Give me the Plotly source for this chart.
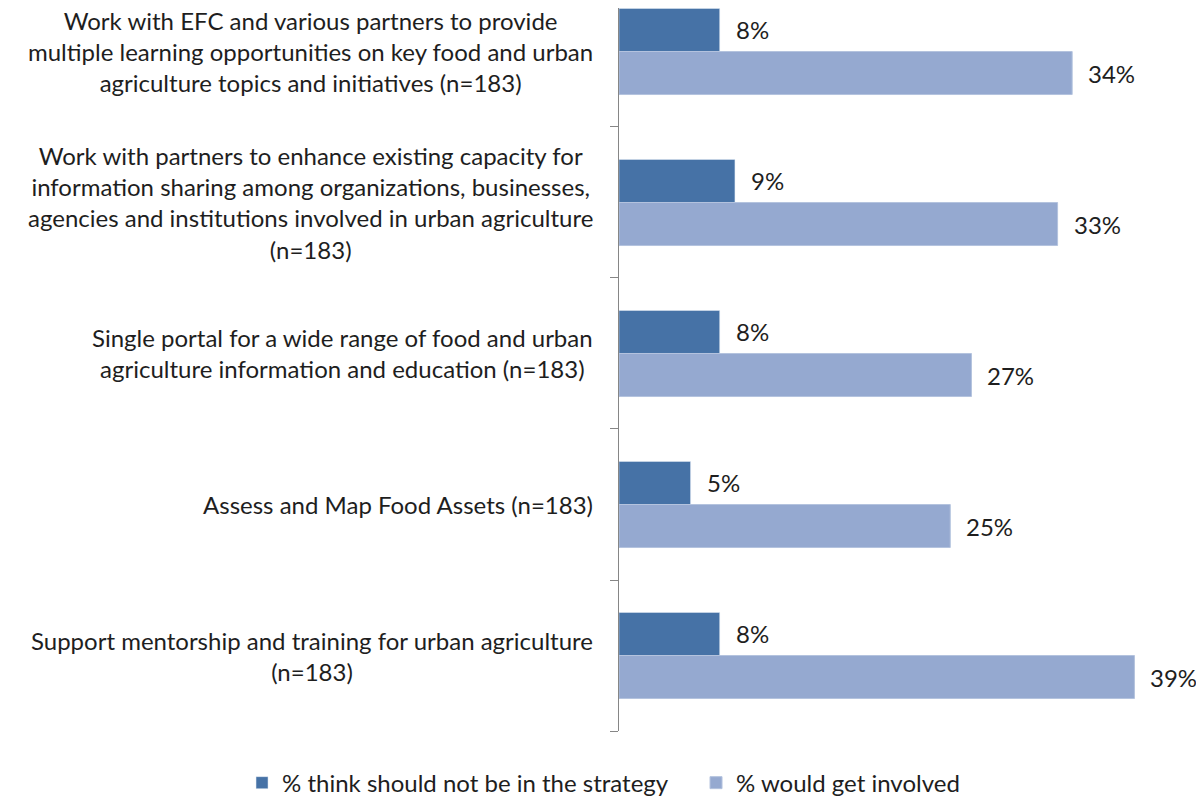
import plotly.graph_objects as go

# Categories listed top to bottom as in the chart
categories = [
    "Work with EFC and various partners to provide<br>multiple learning opportunities on key food and urban<br>agriculture topics and initiatives (n=183)",
    "Work with partners to enhance existing capacity for<br>information sharing among organizations, businesses,<br>agencies and institutions involved in urban agriculture<br>(n=183)",
    "Single portal for a wide range of food and urban<br>agriculture information and education (n=183)",
    "Assess and Map Food Assets (n=183)",
    "Support mentorship and training for urban agriculture<br>(n=183)",
]
series_names = ["% think should not be in the strategy", "% would get involved"]
not_in_strategy = [7.6, 8.75, 7.6, 5.4, 7.6]
would_get_involved = [34.2, 33.1, 26.6, 25.0, 38.9]
not_in_strategy_labels = ["8%", "9%", "8%", "5%", "8%"]
would_get_involved_labels = ["34%", "33%", "27%", "25%", "39%"]

dark = "#4672A6"
light = "#95A9D0"
text_color = "#1e1e1e"
font_family = "Lato, Carlito, 'Liberation Sans', sans-serif"
fs = 24

n = len(categories)
ypos = [n - 1 - i for i in range(n)]
bw = 0.285

fig = go.Figure()
fig.add_trace(go.Bar(
    x=not_in_strategy, y=ypos, orientation="h", name=series_names[0],
    marker=dict(color=dark), width=bw, offset=0, hoverinfo="x",
))
fig.add_trace(go.Bar(
    x=would_get_involved, y=ypos, orientation="h", name=series_names[1],
    marker=dict(color=light, line=dict(color="#B4C3DE", width=1)), width=bw, offset=-bw, hoverinfo="x",
))

annotations = []
for i in range(n):
    annotations.append(dict(
        x=0, y=ypos[i], xref="x", yref="y", text=categories[i], showarrow=False,
        xanchor="right", yanchor="middle", align="center", xshift=-24,
        font=dict(family=font_family, size=fs, color=text_color),
    ))
    annotations.append(dict(
        x=not_in_strategy[i], y=ypos[i] + bw / 2, xref="x", yref="y",
        text=not_in_strategy_labels[i], showarrow=False, xanchor="left",
        yanchor="middle", xshift=14,
        font=dict(family=font_family, size=fs, color=text_color),
    ))
    annotations.append(dict(
        x=would_get_involved[i], y=ypos[i] - bw / 2, xref="x", yref="y",
        text=would_get_involved_labels[i], showarrow=False, xanchor="left",
        yanchor="middle", xshift=14,
        font=dict(family=font_family, size=fs, color=text_color),
    ))

fig.update_layout(
    width=1204, height=799,
    margin=dict(l=611, r=8, t=0, b=76, pad=0, autoexpand=False),
    paper_bgcolor="white", plot_bgcolor="white",
    barmode="overlay",
    showlegend=True,
    legend=dict(
        orientation="h", xref="paper", yref="paper",
        x=-0.6444, xanchor="left", y=-0.072, yanchor="middle",
        font=dict(family=font_family, size=fs, color=text_color),
        itemwidth=30, tracegroupgap=0, entrywidth=409,
    ),
    xaxis=dict(range=[0, 44.15], showgrid=False, zeroline=False, showticklabels=False,
               showline=False, ticks=""),
    yaxis=dict(range=[-0.5, 4.288], showgrid=False, zeroline=False, showticklabels=False,
               showline=True, linecolor="#868686", linewidth=1,
               tickmode="array", tickvals=[-0.5, 0.5, 1.5, 2.5, 3.5, 4.5],
               ticks="outside", ticklen=8, tickcolor="#868686", tickwidth=1),
    annotations=annotations,
)

fig.write_html("out.html")
